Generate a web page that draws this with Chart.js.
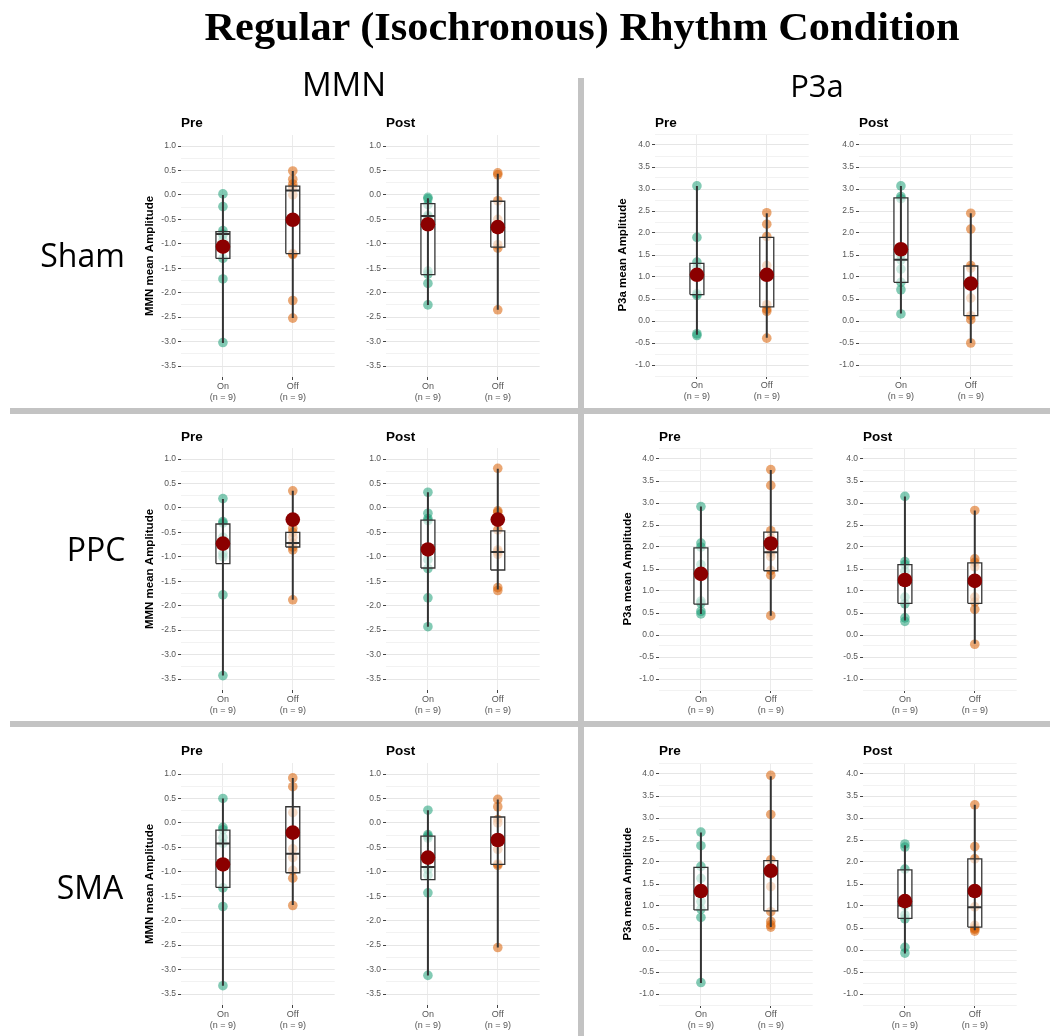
<!DOCTYPE html>
<html><head><meta charset="utf-8">
<script src="https://cdn.jsdelivr.net/npm/chart.js@4.4.0/dist/chart.umd.min.js"></script>
<style>
html,body{margin:0;padding:0;background:#fff;}
body{width:1050px;height:1036px;position:relative;overflow:hidden;}
.cv{position:absolute;}
#overlay{position:absolute;left:0;top:0;pointer-events:none;z-index:5;}
</style></head><body>
<svg id="overlay" width="1050" height="1036" xmlns="http://www.w3.org/2000/svg">
  <rect x="578" y="78" width="6" height="958" fill="#c3c3c3"/>
  <rect x="10" y="408" width="1040" height="6" fill="#c3c3c3"/>
  <rect x="10" y="721" width="1040" height="6" fill="#c3c3c3"/>
  <text x="582" y="40" text-anchor="middle" font-family="Liberation Serif, serif" font-weight="bold" font-size="40" textLength="755" lengthAdjust="spacingAndGlyphs" fill="#000">Regular (Isochronous) Rhythm Condition</text>
</svg>
<script>
// ---------------- DATA ----------------
const chartTitle = "Regular (Isochronous) Rhythm Condition";
const conditions = ["On", "Off"];
const sampleSizes = [9, 9];
const sites = ["Sham", "PPC", "SMA"];
const measures = ["MMN", "P3a"];
const phases = ["Pre", "Post"];
const mmnTickLabels = [-3.5, -3.0, -2.5, -2.0, -1.5, -1.0, -0.5, 0.0, 0.5, 1.0];
const p3aTickLabels = [-1.0, -0.5, 0.0, 0.5, 1.0, 1.5, 2.0, 2.5, 3.0, 3.5, 4.0];

// individual participant values (n = 9 each)
const shamMmnPreOn   = [0.02, -0.24, -0.73, -0.80, -0.82, -0.93, -1.30, -1.72, -3.02];
const shamMmnPreOff  = [0.49, 0.32, 0.22, 0.15, 0.00, -1.20, -1.22, -2.16, -2.52];
const shamMmnPostOn  = [-0.05, -0.08, -0.20, -0.42, -0.45, -1.56, -1.62, -1.81, -2.25];
const shamMmnPostOff = [0.45, 0.41, -0.12, -0.50, -0.62, -0.70, -1.02, -1.09, -2.35];
const shamP3aPreOn   = [3.07, 1.90, 1.34, 1.22, 1.05, 0.62, 0.58, -0.29, -0.33];
const shamP3aPreOff  = [2.46, 2.20, 1.92, 1.26, 1.00, 0.37, 0.27, 0.22, -0.39];
const shamP3aPostOn  = [3.07, 2.83, 2.78, 1.50, 1.39, 1.18, 0.88, 0.71, 0.16];
const shamP3aPostOff = [2.45, 2.09, 1.26, 1.20, 0.85, 0.52, 0.12, 0.03, -0.50];
const ppcMmnPreOn    = [0.19, -0.28, -0.31, -0.60, -0.75, -0.93, -1.00, -1.78, -3.43];
const ppcMmnPreOff   = [0.35, -0.20, -0.42, -0.50, -0.60, -0.72, -0.80, -0.86, -1.88];
const ppcMmnPostOn   = [0.32, -0.11, -0.22, -0.26, -0.85, -1.06, -1.24, -1.84, -2.43];
const ppcMmnPostOff  = [0.81, -0.06, -0.09, -0.45, -0.86, -0.90, -0.95, -1.63, -1.69];
const ppcP3aPreOn    = [2.92, 2.09, 2.00, 1.60, 1.35, 0.77, 0.72, 0.54, 0.48];
const ppcP3aPreOff   = [3.76, 3.40, 2.37, 2.20, 1.88, 1.78, 1.47, 1.36, 0.44];
const ppcP3aPostOn   = [3.15, 1.67, 1.60, 1.45, 1.20, 0.86, 0.71, 0.39, 0.31];
const ppcP3aPostOff  = [2.83, 1.73, 1.65, 1.55, 1.20, 0.86, 0.75, 0.58, -0.21];
const smaMmnPreOn    = [0.50, -0.09, -0.14, -0.30, -0.42, -0.85, -1.33, -1.71, -3.33];
const smaMmnPreOff   = [0.92, 0.74, 0.21, -0.20, -0.53, -0.71, -0.97, -1.13, -1.69];
const smaMmnPostOn   = [0.26, -0.24, -0.27, -0.31, -0.70, -0.95, -1.07, -1.43, -3.12];
const smaMmnPostOff  = [0.48, 0.33, 0.07, 0.00, -0.35, -0.54, -0.84, -0.87, -2.55];
const smaP3aPreOn    = [2.68, 2.37, 1.90, 1.63, 1.35, 1.10, 0.93, 0.74, -0.74];
const smaP3aPreOff   = [3.97, 3.08, 2.05, 1.80, 1.44, 0.87, 0.65, 0.57, 0.52];
const smaP3aPostOn   = [2.41, 2.34, 1.84, 1.10, 1.01, 0.80, 0.71, 0.06, -0.07];
const smaP3aPostOff  = [3.30, 2.35, 2.07, 1.30, 0.98, 0.56, 0.50, 0.47, 0.43];

// box statistics [min, q1, median, q3, max] for On and Off
const shamMmnPreBox  = [[-3.03, -1.30, -0.80, -0.75, 0.00], [-2.52, -1.20, 0.09, 0.18, 0.49]];
const shamMmnPostBox = [[-2.25, -1.63, -0.43, -0.18, -0.07], [-2.35, -1.07, -0.66, -0.13, 0.43]];
const shamP3aPreBox  = [[-0.31, 0.60, 1.05, 1.31, 3.07], [-0.38, 0.32, 1.05, 1.90, 2.45]];
const shamP3aPostBox = [[0.17, 0.88, 1.39, 2.80, 3.07], [-0.50, 0.12, 0.85, 1.25, 2.45]];
const ppcMmnPreBox   = [[-3.43, -1.14, -0.74, -0.33, 0.18], [-1.88, -0.80, -0.72, -0.50, 0.35]];
const ppcMmnPostBox  = [[-2.43, -1.23, -0.85, -0.25, 0.32], [-1.67, -1.27, -0.90, -0.47, 0.80]];
const ppcP3aPreBox   = [[0.48, 0.70, 1.40, 1.98, 2.92], [0.44, 1.46, 1.88, 2.34, 3.75]];
const ppcP3aPostBox  = [[0.33, 0.72, 1.20, 1.60, 3.15], [-0.20, 0.72, 1.20, 1.64, 2.83]];
const smaMmnPreBox   = [[-3.33, -1.32, -0.42, -0.15, 0.50], [-1.68, -1.02, -0.63, 0.33, 0.92]];
const smaMmnPostBox  = [[-3.12, -1.16, -0.90, -0.27, 0.26], [-2.55, -0.85, -0.35, 0.12, 0.48]];
const smaP3aPreBox   = [[-0.75, 0.91, 1.33, 1.88, 2.67], [0.52, 0.89, 1.80, 2.03, 3.95]];
const smaP3aPostBox  = [[-0.08, 0.72, 1.01, 1.82, 2.38], [0.45, 0.52, 0.97, 2.07, 3.30]];

// group means [On, Off]
const shamMmnPreMean  = [-1.06, -0.51];
const shamMmnPostMean = [-0.60, -0.66];
const shamP3aPreMean  = [1.05, 1.05];
const shamP3aPostMean = [1.63, 0.85];
const ppcMmnPreMean   = [-0.73, -0.24];
const ppcMmnPostMean  = [-0.85, -0.24];
const ppcP3aPreMean   = [1.39, 2.08];
const ppcP3aPostMean  = [1.25, 1.23];
const smaMmnPreMean   = [-0.85, -0.20];
const smaMmnPostMean  = [-0.71, -0.35];
const smaP3aPreMean   = [1.34, 1.80];
const smaP3aPostMean  = [1.11, 1.34];

// ---------------- LAYOUT / STYLE ----------------
const panels = [
  ["Sham","MMN","Pre", shamMmnPreOn, shamMmnPreOff, shamMmnPreBox, shamMmnPreMean],
  ["Sham","MMN","Post", shamMmnPostOn, shamMmnPostOff, shamMmnPostBox, shamMmnPostMean],
  ["Sham","P3a","Pre", shamP3aPreOn, shamP3aPreOff, shamP3aPreBox, shamP3aPreMean],
  ["Sham","P3a","Post", shamP3aPostOn, shamP3aPostOff, shamP3aPostBox, shamP3aPostMean],
  ["PPC","MMN","Pre", ppcMmnPreOn, ppcMmnPreOff, ppcMmnPreBox, ppcMmnPreMean],
  ["PPC","MMN","Post", ppcMmnPostOn, ppcMmnPostOff, ppcMmnPostBox, ppcMmnPostMean],
  ["PPC","P3a","Pre", ppcP3aPreOn, ppcP3aPreOff, ppcP3aPreBox, ppcP3aPreMean],
  ["PPC","P3a","Post", ppcP3aPostOn, ppcP3aPostOff, ppcP3aPostBox, ppcP3aPostMean],
  ["SMA","MMN","Pre", smaMmnPreOn, smaMmnPreOff, smaMmnPreBox, smaMmnPreMean],
  ["SMA","MMN","Post", smaMmnPostOn, smaMmnPostOff, smaMmnPostBox, smaMmnPostMean],
  ["SMA","P3a","Pre", smaP3aPreOn, smaP3aPreOff, smaP3aPreBox, smaP3aPreMean],
  ["SMA","P3a","Post", smaP3aPostOn, smaP3aPostOff, smaP3aPostBox, smaP3aPostMean]
];

const geom = {
  MMN: { pre: [181, 181, 181], post: [386, 386, 386], top: [135, 448, 763], titleX: [150, 150, 150], ticks: mmnTickLabels },
  P3a: { pre: [655, 659, 659], post: [859, 863, 863], top: [134, 448, 763], titleX: [623, 628, 628], ticks: p3aTickLabels }
};
const plotW = 157, plotH = 242;
const panelTitleBaseline = [127, 440.5, 754.5];
const rowLabelPos = [[82.5, 267], [96, 561], [90, 899]];
const colLabelPos = [[344, 96], [817, 96.5]];
const colLabelSize = [33, 31];
const boxHalf = 0.1;
const TICK_FONT = "Liberation Sans, Arial, sans-serif";

const svg = document.getElementById('overlay');
const NS = "http://www.w3.org/2000/svg";
function svgText(txt, x, y, opts) {
  const t = document.createElementNS(NS, 'text');
  t.setAttribute('x', x); t.setAttribute('y', y);
  for (const k in opts) t.setAttribute(k, opts[k]);
  t.textContent = txt;
  svg.appendChild(t);
}
measures.forEach((m, i) => svgText(m, colLabelPos[i][0], colLabelPos[i][1],
  {'text-anchor':'middle','font-family':'Open Sans, sans-serif','font-size':String(colLabelSize[i]),'fill':'#000'}));
sites.forEach((s, i) => svgText(s, rowLabelPos[i][0], rowLabelPos[i][1],
  {'text-anchor':'middle','font-family':'Open Sans, sans-serif','font-size':'32','fill':'#000'}));

function isMajor(v) { return Math.abs(v * 2 - Math.round(v * 2)) < 1e-9; }

function lineDs(points, width, order) {
  return { type: 'line', data: points, borderColor: '#333333', borderWidth: width, pointRadius: 0,
           pointHoverRadius: 0, fill: false, tension: 0, order: order, borderCapStyle: 'butt' };
}

panels.forEach(p => {
  const [site, measure, phase, on, off, box, mean] = p;
  const r = sites.indexOf(site);
  const g = geom[measure];
  const isPre = phase === phases[0];
  const left = isPre ? g.pre[r] : g.post[r];
  const top = g.top[r];
  const yW = isPre ? left - Math.round(g.titleX[r] - 11) : 32;
  const cw = yW + plotW + 4, ch = 8 + plotH + 30;

  svgText(phase, left, panelTitleBaseline[r],
    {'font-family': TICK_FONT, 'font-weight':'bold', 'font-size':'13.5', 'fill':'#000'});

  const div = document.createElement('div');
  div.className = 'cv';
  div.style.left = (left - yW) + 'px';
  div.style.top = (top - 8) + 'px';
  const cv = document.createElement('canvas');
  cv.width = cw; cv.height = ch;
  cv.style.width = cw + 'px'; cv.style.height = ch + 'px';
  div.appendChild(cv);
  document.body.insertBefore(div, svg);

  const tl = g.ticks;
  const span = tl[tl.length - 1] - tl[0];
  const yMin = tl[0] - 0.05 * span, yMax = tl[tl.length - 1] + 0.05 * span;
  const tickVals = [];
  for (let v = tl[0] - 0.25; v <= tl[tl.length - 1] + 0.25 + 1e-9; v += 0.25) {
    if (v >= yMin - 1e-9 && v <= yMax + 1e-9) tickVals.push(Math.round(v * 100) / 100);
  }

  const ds = [];
  ds.push({ type: 'scatter', data: mean.map((m, i) => ({ x: i + 1, y: m })), pointRadius: 7.3,
            pointHoverRadius: 7.3, backgroundColor: '#8b0000', borderWidth: 0, order: 0 });
  box.forEach((b, i) => {
    const c = i + 1;
    ds.push(lineDs([{ x: c - boxHalf, y: b[2] }, { x: c + boxHalf, y: b[2] }], 2, 1));
    ds.push(lineDs([{ x: c, y: b[0] }, { x: c, y: b[4] }], 2, 2));
    const rect = lineDs([{ x: c - boxHalf, y: b[1] }, { x: c + boxHalf, y: b[1] }, { x: c + boxHalf, y: b[3] },
                         { x: c - boxHalf, y: b[3] }, { x: c - boxHalf, y: b[1] }], 1.3, 3);
    rect.fill = 'shape';
    rect.backgroundColor = 'rgba(255,255,255,0.6)';
    ds.push(rect);
  });
  ds.push({ type: 'scatter', data: on.map(v => ({ x: 1, y: v })), pointRadius: 4.8, pointHoverRadius: 4.8,
            backgroundColor: 'rgba(27,158,119,0.55)', borderWidth: 0, order: 4 });
  ds.push({ type: 'scatter', data: off.map(v => ({ x: 2, y: v })), pointRadius: 4.8, pointHoverRadius: 4.8,
            backgroundColor: 'rgba(217,95,2,0.55)', borderWidth: 0, order: 4 });

  new Chart(cv, {
    type: 'scatter',
    data: { datasets: ds },
    options: {
      responsive: false, animation: false, events: [],
      layout: { padding: { top: 8, right: 4, bottom: 0, left: 0 } },
      plugins: { legend: { display: false }, tooltip: { enabled: false }, title: { display: false } },
      scales: {
        x: {
          type: 'linear', min: 0.4, max: 2.6,
          afterBuildTicks: s => { s.ticks = conditions.map((c, i) => ({ value: i + 1 })); },
          afterFit: s => { s.height = 30; },
          ticks: {
            callback: v => [conditions[v - 1], '(n = ' + sampleSizes[v - 1] + ')'],
            font: { family: TICK_FONT, size: 9, lineHeight: 1.2 }, color: '#555555',
            padding: 1, maxRotation: 0, autoSkip: false
          },
          grid: { color: '#ebebeb', lineWidth: 1, tickLength: 3, tickColor: '#444444', drawTicks: true },
          border: { display: false }
        },
        y: {
          type: 'linear', min: yMin, max: yMax,
          afterBuildTicks: s => { s.ticks = tickVals.map(v => ({ value: v })); },
          afterFit: s => { s.width = yW; },
          ticks: {
            callback: v => isMajor(v) ? v.toFixed(1) : '',
            font: { family: TICK_FONT, size: 8.5 }, color: '#555555', padding: 2, autoSkip: false
          },
          grid: {
            color: c => (c.tick && isMajor(c.tick.value)) ? '#e6e6e6' : '#f2f2f2',
            tickColor: c => (c.tick && isMajor(c.tick.value)) ? '#444444' : 'rgba(0,0,0,0)',
            tickLength: 3, lineWidth: 1, drawTicks: true
          },
          border: { display: false },
          title: {
            display: isPre, text: measure + ' mean Amplitude', color: '#000',
            font: { family: TICK_FONT, size: 11.5, weight: 'bold' }, padding: { top: 4, bottom: 0 }
          }
        }
      }
    }
  });
});
</script>
</body></html>
